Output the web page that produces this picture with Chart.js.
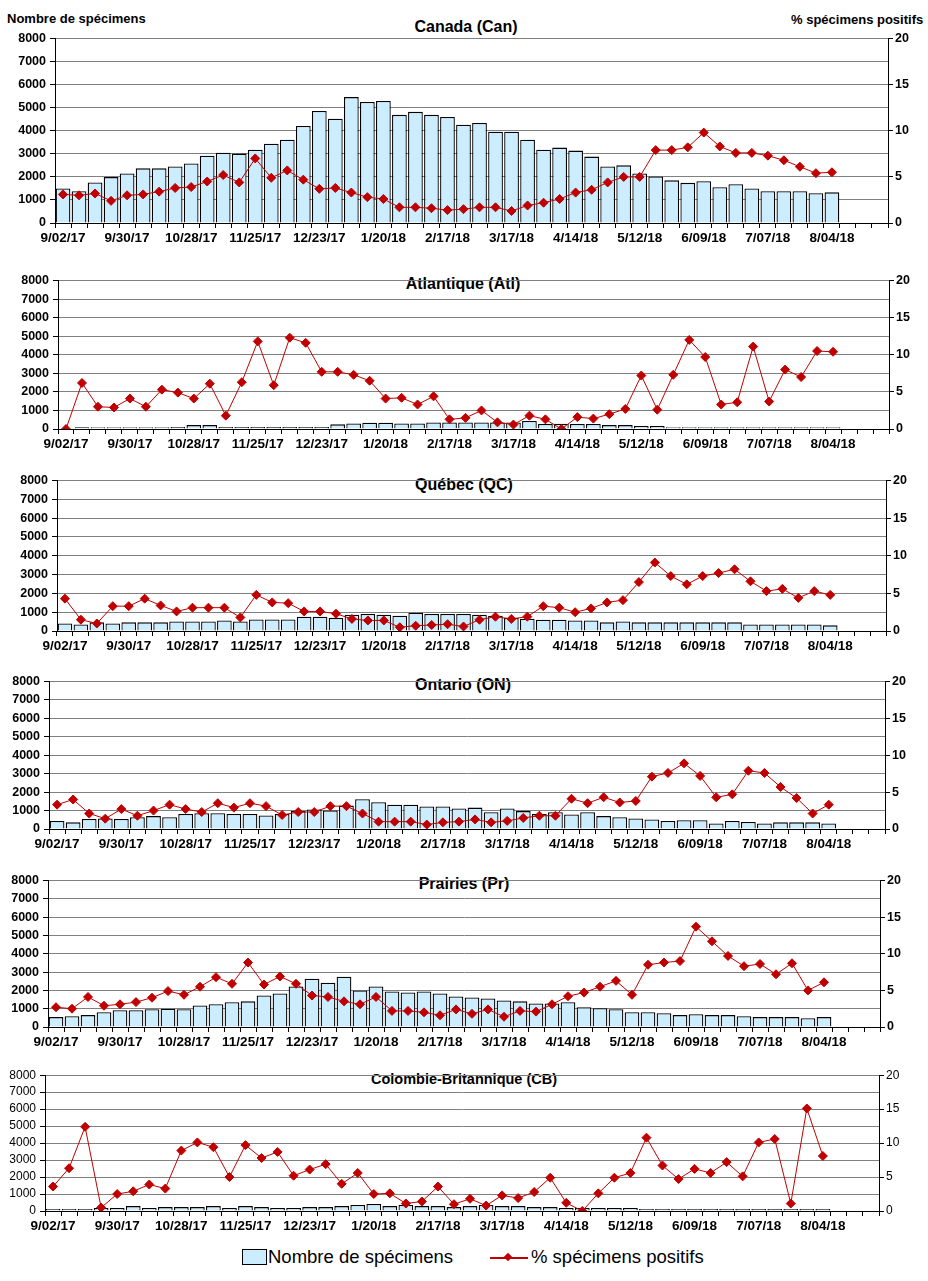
<!DOCTYPE html>
<html lang="fr">
<head>
<meta charset="utf-8">
<title>Spécimens – influenza 2017-2018</title>
<script src="https://cdn.jsdelivr.net/npm/chart.js@4.4.1/dist/chart.umd.min.js"></script>
<style>
  body { margin:0; background:#fff; font-family:"Liberation Sans", Arial, sans-serif; }
  #page { position:relative; width:928px; height:1281px; overflow:hidden; }
  .lbl { position:absolute; color:#000; white-space:nowrap; line-height:1; }
  .title { font-weight:bold; font-size:16px; transform:translate(-50%,-50%); }
  .axt { font-weight:bold; font-size:13px; transform:translateY(-50%); }
  canvas { position:absolute; left:0; }
</style>
</head>
<body>
<div id="page">
  <div class="lbl axt" style="left:7px;top:18px">Nombre de spécimens</div>
  <div class="lbl axt" style="left:791px;top:19px">% spécimens positifs</div>

  <div class="lbl title" style="left:466px;top:27px">Canada (Can)</div>
  <div class="lbl title" style="left:463px;top:284px">Atlantique (Atl)</div>
  <div class="lbl title" style="left:464px;top:485px">Québec (QC)</div>
  <div class="lbl title" style="left:463px;top:685px">Ontario (ON)</div>
  <div class="lbl title" style="left:464px;top:884px">Prairies (Pr)</div>
  <div class="lbl title" style="left:464px;top:1079px;font-size:14.5px">Colombie-Britannique (CB)</div>

  <!-- légende -->
  <div style="position:absolute;left:242px;top:1249px;width:23px;height:14px;background:#CCECFF;border:1px solid #000"></div>
  <div class="lbl" style="left:268px;top:1257px;font-size:18.5px;transform:translateY(-50%)">Nombre de spécimens</div>
  <div style="position:absolute;left:490px;top:1257px;width:38px;height:1.5px;background:#C00000"></div>
  <div style="position:absolute;left:505px;top:1254px;width:6px;height:6px;background:#C00000;transform:rotate(45deg)"></div>
  <div class="lbl" style="left:531px;top:1257px;font-size:18.5px;transform:translateY(-50%)">% spécimens positifs</div>
</div>

<script>
// Semaines (52 catégories, données sur les 49 premières)
const weeks = ["9/02/17","9/09/17","9/16/17","9/23/17","9/30/17","10/07/17","10/14/17","10/21/17",
  "10/28/17","11/04/17","11/11/17","11/18/17","11/25/17","12/02/17","12/09/17","12/16/17",
  "12/23/17","12/30/17","1/06/18","1/13/18","1/20/18","1/27/18","2/03/18","2/10/18",
  "2/17/18","2/24/18","3/03/18","3/10/18","3/17/18","3/24/18","3/31/18","4/07/18",
  "4/14/18","4/21/18","4/28/18","5/05/18","5/12/18","5/19/18","5/26/18","6/02/18",
  "6/09/18","6/16/18","6/23/18","6/30/18","7/07/18","7/14/18","7/21/18","7/28/18",
  "8/04/18","8/11/18","8/18/18","8/25/18"];

// Canada
const canSpecimens = [1500,1380,1760,1990,2150,2370,2370,2450,2580,2920,3050,3010,3180,3440,3610,4210,4860,4520,5460,5250,
  5290,4690,4820,4690,4600,4260,4340,3960,3960,3610,3180,3270,3140,2880,2450,2500,2150,2020,1850,1740,
  1810,1550,1680,1500,1380,1380,1380,1290,1330];
const canPositive = [3.1,3.0,3.2,2.4,3.0,3.1,3.4,3.8,3.9,4.5,5.2,4.4,7.0,4.9,5.7,4.7,3.7,3.8,3.3,2.8,
  2.6,1.7,1.7,1.6,1.4,1.5,1.7,1.7,1.3,1.9,2.2,2.6,3.3,3.6,4.4,5.0,5.0,7.9,7.9,8.2,
  9.8,8.3,7.6,7.6,7.3,6.8,6.1,5.4,5.5];

// Atlantique
const atlSpecimens = [30,90,100,100,100,100,100,110,210,210,110,110,110,110,110,110,110,250,300,340,
  340,300,300,350,350,350,350,350,350,430,270,280,270,270,210,210,160,160,100,100,
  100,100,100,100,100,100,100,100,100];
const atlPositive = [0,6.2,3.0,2.9,4.1,3.0,5.3,4.9,4.1,6.1,1.8,6.3,11.8,5.9,12.3,11.6,7.7,7.7,7.3,6.5,
  4.1,4.2,3.3,4.4,1.3,1.5,2.5,0.9,0.6,1.8,1.3,0,1.6,1.4,2.0,2.7,7.2,2.6,7.3,12.0,
  9.7,3.3,3.6,11.1,3.7,8.0,7.0,10.5,10.4];

// Québec
const qcSpecimens = [400,350,460,400,460,460,460,510,510,510,560,510,610,610,610,760,760,700,860,910,
  860,810,970,910,910,910,860,810,700,650,600,600,560,560,460,510,460,460,460,460,
  460,460,460,350,350,350,350,350,300];
const qcPositive = [4.3,1.5,1.0,3.3,3.3,4.3,3.4,2.6,3.1,3.1,3.1,1.8,4.8,3.8,3.7,2.6,2.6,2.3,1.6,1.4,
  1.4,0.5,0.7,0.8,0.9,0.6,1.5,1.9,1.6,1.9,3.3,3.1,2.5,3.0,3.8,4.1,6.5,9.1,7.3,6.2,
  7.3,7.7,8.2,6.6,5.3,5.6,4.4,5.3,4.8];

// Ontario
const onSpecimens = [430,360,540,570,540,640,700,640,810,860,860,810,810,730,810,970,1060,1000,1270,1610,
  1450,1320,1320,1220,1220,1110,1160,910,1110,970,810,910,790,910,700,640,570,520,430,480,
  480,300,430,380,300,360,360,360,300];
const onPositive = [3.3,4.0,2.1,1.4,2.7,1.8,2.5,3.3,2.7,2.3,3.5,2.9,3.5,3.1,1.9,2.3,2.3,3.1,3.1,2.1,
  1.0,1.0,1.0,0.6,0.9,1.0,1.3,0.9,1.1,1.5,1.8,1.8,4.1,3.5,4.3,3.6,3.8,7.1,7.6,8.9,
  7.2,4.3,4.7,7.9,7.6,5.7,4.2,2.1,3.3];

// Prairies
const prSpecimens = [540,590,650,810,920,920,970,1000,970,1180,1240,1350,1400,1720,1830,2210,2640,2420,2740,1990,
  2210,1940,1880,1940,1830,1670,1610,1560,1450,1400,1290,1290,1350,1080,1020,970,810,810,750,650,
  700,650,650,590,540,540,540,480,540];
const prPositive = [2.7,2.5,4.1,2.9,3.1,3.4,4.0,4.9,4.4,5.5,6.8,5.9,8.8,5.8,6.9,5.9,4.3,4.1,3.5,3.1,
  4.1,2.2,2.2,2.0,1.6,2.4,1.8,2.4,1.4,2.2,2.1,3.1,4.2,4.7,5.5,6.3,4.4,8.5,8.8,9.0,
  13.7,11.7,9.7,8.3,8.6,7.2,8.7,5.0,6.1];

// Colombie-Britannique
const cbSpecimens = [120,120,120,180,180,290,180,230,230,230,290,180,290,230,180,180,230,230,290,350,
  410,290,350,290,290,230,290,350,290,290,230,230,180,180,180,180,180,120,120,120,
  120,120,120,120,120,120,120,120,120];
const cbPositive = [3.6,6.3,12.4,0.5,2.5,2.9,3.9,3.3,8.9,10.1,9.4,5.0,9.7,7.8,8.7,5.2,6.1,6.9,4.0,5.6,
  2.5,2.6,1.1,1.4,3.6,1.0,1.8,0.8,2.3,1.9,2.8,4.9,1.2,0,2.6,4.9,5.6,10.8,6.7,4.7,
  6.2,5.6,7.2,5.1,10.1,10.6,1.1,15.1,8.1];

const FONT = '"Liberation Sans", Arial, sans-serif';
const BAR_FILL = "#CCECFF";
const RED = "#C00000";
const PAD_T = 10, PAD_B = 26;

// zone de tracé de chaque panneau (en pixels de page)
function panel(box, specimens, positive, boldY) {
  const page = document.getElementById("page");
  const cv = document.createElement("canvas");
  const h = box.bottom - box.top + PAD_T + PAD_B;
  cv.width = 928; cv.height = h;
  cv.style.top = (box.top - PAD_T) + "px";
  cv.style.width = "928px"; cv.style.height = h + "px";
  page.appendChild(cv);

  const yFont = {family: FONT, size: boldY ? 12.5 : 12, weight: boldY ? "bold" : "normal"};

  new Chart(cv.getContext("2d"), {
    data: {
      labels: weeks,
      datasets: [
        {
          type: "line", label: "% spécimens positifs", data: positive, yAxisID: "y1", order: 0,
          borderColor: RED, borderWidth: 1, backgroundColor: RED,
          pointStyle: "rectRot", pointRadius: 4.5, pointBackgroundColor: RED, pointBorderColor: RED,
          pointBorderWidth: 1, tension: 0
        },
        {
          type: "bar", label: "Nombre de spécimens", data: specimens, yAxisID: "y", order: 1,
          backgroundColor: BAR_FILL, borderColor: "#000", borderWidth: 1.3,
          barPercentage: 0.92, categoryPercentage: 1
        }
      ]
    },
    options: {
      responsive: false,
      animation: false,
      layout: {padding: {top: PAD_T, left: 0, right: 0, bottom: 0}},
      plugins: {legend: {display: false}, tooltip: {enabled: false}, title: {display: false}},
      scales: {
        x: {
          type: "category", offset: true,
          grid: {offset: true, drawOnChartArea: false, color: "#000", tickLength: 5},
          border: {display: true, color: "#000", width: 1},
          ticks: {
            autoSkip: false, maxRotation: 0, minRotation: 0, padding: 2, color: "#000",
            font: {family: FONT, size: 13.5, weight: "bold"},
            callback: (v, i) => (i % 4 === 0 ? weeks[i] : "")
          },
          afterFit: s => { s.height = PAD_B; }
        },
        y: {
          position: "left", min: 0, max: 8000,
          ticks: {stepSize: 1000, autoSkip: false, padding: 4, color: "#000", font: yFont,
                  callback: v => String(v)},
          grid: {color: "#808080", tickColor: "#000", tickLength: 5, lineWidth: 1},
          border: {display: true, color: "#000", width: 1},
          afterFit: s => { s.width = box.left; }
        },
        y1: {
          position: "right", min: 0, max: 20,
          ticks: {stepSize: 5, autoSkip: false, padding: 2, color: "#000", font: yFont,
                  callback: v => String(v)},
          grid: {drawOnChartArea: false, color: "#000", tickLength: 5},
          border: {display: true, color: "#000", width: 1},
          afterFit: s => { s.width = 928 - box.right; }
        }
      }
    }
  });
}

panel({left: 55, right: 888, top: 37, bottom: 223}, canSpecimens, canPositive, true);
panel({left: 58, right: 889, top: 279, bottom: 429}, atlSpecimens, atlPositive, true);
panel({left: 57, right: 886, top: 479, bottom: 631}, qcSpecimens, qcPositive, true);
panel({left: 49, right: 885, top: 680, bottom: 829}, onSpecimens, onPositive, true);
panel({left: 48, right: 880, top: 879, bottom: 1027}, prSpecimens, prPositive, true);
panel({left: 45, right: 879, top: 1074, bottom: 1211}, cbSpecimens, cbPositive, false);
</script>
</body>
</html>
